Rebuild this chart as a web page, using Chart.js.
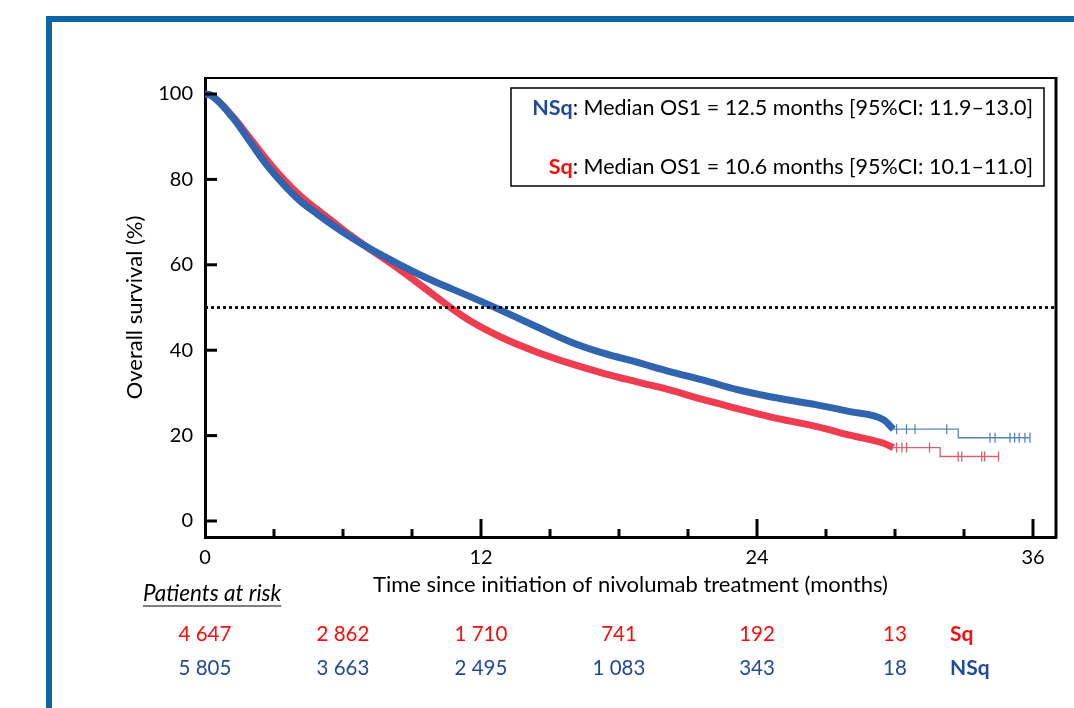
<!DOCTYPE html>
<html>
<head>
<meta charset="utf-8">
<script src="https://cdn.jsdelivr.net/npm/chart.js@4.4.1/dist/chart.umd.min.js"></script>
<style>
  body { margin: 0; background: #fff; }
  #wrap { position: relative; width: 1074px; height: 708px; overflow: hidden; }
  #frame { position: absolute; left: 46px; top: 16px; right: -10px; bottom: -10px;
           border-left: 6px solid #0b65a5; border-top: 6px solid #0b65a5; }
  canvas { position: absolute; left: 0; top: 0; }
</style>
</head>
<body>
<div id="wrap">
  <div id="frame"></div>
  <canvas id="osChart" width="1074" height="708"></canvas>
</div>
<script>
// --- DATA ---
const xTicks = [0, 3, 6, 9, 12, 15, 18, 21, 24, 27, 30, 33, 36];
const yTicks = [0, 20, 40, 60, 80, 100];

// dense part of the Kaplan-Meier curves (months, % alive)
const nsqTime = [0, 0.22, 1.23, 1.96, 2.68, 3.4, 4.13, 4.86, 5.58, 6.3, 7.03, 8.48, 9.93, 11.38, 12.4, 12.97, 14.42, 15.87, 17.32, 18.77, 20.2, 21.67, 23.1, 24.57, 26.6, 28.04, 29.5, 29.93];
const nsqSurv = [100, 99.8, 94.3, 88.8, 83.4, 78.9, 75.0, 72.0, 69.2, 66.6, 64.2, 60.0, 56.2, 52.9, 50.5, 49.1, 45.5, 42.0, 39.3, 37.2, 35.0, 33.0, 30.8, 29.1, 27.2, 25.6, 23.7, 21.5];
const sqTime = [0, 0.22, 1.23, 1.96, 2.68, 3.4, 4.13, 4.86, 5.58, 6.3, 7.03, 8.48, 9.93, 10.8, 11.52, 12.97, 14.42, 15.87, 17.32, 18.77, 20.2, 21.67, 23.1, 24.57, 26.6, 28.04, 29.5, 29.93];
const sqSurv = [100, 99.8, 94.6, 89.6, 84.6, 80.1, 76.2, 73.0, 70.0, 67.0, 64.2, 58.8, 53.0, 49.5, 46.9, 42.8, 39.6, 36.9, 34.6, 32.6, 30.7, 28.4, 26.4, 24.4, 22.1, 20.1, 18.2, 17.2];

// sparse tails (step lines) and censoring marks
const nsqTailTime = [29.93, 32.75, 35.87];
const nsqTailSurv = [21.5, 19.5, 19.5];
const nsqCensorTime = [30.07, 30.5, 30.87, 32.25, 34.13, 34.35, 35.0, 35.2, 35.4, 35.65, 35.87];
const nsqCensorSurv = [21.5, 21.5, 21.5, 21.5, 19.5, 19.5, 19.5, 19.5, 19.5, 19.5, 19.5];
const sqTailTime = [29.93, 31.96, 34.5];
const sqTailSurv = [17.2, 15.1, 15.1];
const sqCensorTime = [30.07, 30.3, 30.5, 31.5, 32.75, 32.9, 33.77, 33.9, 34.5];
const sqCensorSurv = [17.2, 17.2, 17.2, 17.2, 15.1, 15.1, 15.1, 15.1, 15.1];

const medianLine = [50, 50];

// patients at risk table
const riskTimes = [0, 6, 12, 18, 24, 30];
const sqRisk = ['4 647', '2 862', '1 710', '741', '192', '13'];
const nsqRisk = ['5 805', '3 663', '2 495', '1 083', '343', '18'];

// legend box text
const legendGroups = ['NSq', 'Sq'];
const legendTexts = [': Median OS1 = 12.5 months [95%CI: 11.9\u201313.0]', ': Median OS1 = 10.6 months [95%CI: 10.1\u201311.0]'];

const BLUE = '#3064ae';
const RED = '#ee3c50';
const BLUE_TXT = '#1f4a9c';
const RED_TXT = '#ff0a0a';
const FONT = 'Lato, "Open Sans", sans-serif';

const pts = (xs, ys) => xs.map((t, i) => ({ x: t, y: ys[i] }));

// --- DECORATION PLUGIN ---
const decor = {
    id: 'decor',
    afterDraw(chart) {
        const { ctx, chartArea: a, scales: { x, y } } = chart;
        ctx.save();
        ctx.strokeStyle = '#000';

        // top + right frame of the plot
        ctx.lineWidth = 2;
        ctx.beginPath();
        ctx.moveTo(a.left, a.top);
        ctx.lineTo(a.right, a.top);
        ctx.stroke();
        ctx.lineWidth = 3;
        ctx.beginPath();
        ctx.moveTo(a.right, a.top - 1);
        ctx.lineTo(a.right, a.bottom + 1.5);
        ctx.stroke();

        // inward tick marks
        ctx.lineWidth = 3;
        xTicks.forEach(v => {
            if (v === 0) return;
            const px = x.getPixelForValue(v);
            const len = v % 12 === 0 ? 18 : 8;
            ctx.beginPath();
            ctx.moveTo(px, a.bottom);
            ctx.lineTo(px, a.bottom - len);
            ctx.stroke();
        });
        yTicks.forEach(v => {
            const py = y.getPixelForValue(v);
            ctx.beginPath();
            ctx.moveTo(a.left, py);
            ctx.lineTo(a.left + 12, py);
            ctx.stroke();
        });

        // legend box
        ctx.lineWidth = 1.5;
        ctx.strokeRect(511, 88, 533, 98);
        ctx.textBaseline = 'middle';
        ctx.textAlign = 'right';
        const ly = [108, 167];
        const cols = [BLUE_TXT, RED_TXT];
        legendGroups.forEach((g, i) => {
            ctx.font = '21.5px ' + FONT;
            ctx.fillStyle = '#000';
            ctx.fillText(legendTexts[i], 1033, ly[i]);
            const w = ctx.measureText(legendTexts[i]).width;
            ctx.font = 'bold 21.5px ' + FONT;
            ctx.fillStyle = cols[i];
            ctx.fillText(g, 1033 - w, ly[i]);
        });

        // patients at risk
        ctx.textAlign = 'left';
        ctx.font = 'italic 22.5px ' + FONT;
        ctx.fillStyle = '#000';
        ctx.fillText('Patients at risk', 143, 594);
        const hw = ctx.measureText('Patients at risk').width;
        ctx.lineWidth = 1.2;
        ctx.beginPath();
        ctx.moveTo(143, 606);
        ctx.lineTo(143 + hw, 606);
        ctx.stroke();

        ctx.textAlign = 'center';
        ctx.font = '20.5px ' + FONT;
        riskTimes.forEach((t, i) => {
            const px = x.getPixelForValue(t);
            ctx.fillStyle = RED_TXT;
            ctx.fillText(sqRisk[i], px, 634);
            ctx.fillStyle = BLUE_TXT;
            ctx.fillText(nsqRisk[i], px, 668);
        });
        ctx.textAlign = 'left';
        ctx.font = 'bold 21px ' + FONT;
        ctx.fillStyle = RED_TXT;
        ctx.fillText('Sq', 950, 634);
        ctx.fillStyle = BLUE_TXT;
        ctx.fillText('NSq', 950, 668);
        ctx.restore();
    }
};

// --- CHART ---
const ctx = document.getElementById('osChart').getContext('2d');
const chart = new Chart(ctx, {
    type: 'line',
    data: {
        datasets: [
            {
                label: 'median',
                data: [{ x: 0, y: medianLine[0] }, { x: 37, y: medianLine[1] }],
                borderColor: '#000',
                borderWidth: 2.8,
                borderDash: [3, 3],
                pointRadius: 0,
                order: 0
            },
            {
                label: 'NSq',
                data: pts(nsqTime, nsqSurv),
                borderColor: BLUE,
                borderWidth: 7,
                cubicInterpolationMode: 'monotone',
                pointRadius: 0,
                order: 1
            },
            {
                label: 'NSq tail',
                data: pts(nsqTailTime, nsqTailSurv),
                borderColor: '#5a86b6',
                borderWidth: 1.3,
                stepped: true,
                pointRadius: 0,
                order: 1
            },
            {
                label: 'NSq censored',
                data: pts(nsqCensorTime, nsqCensorSurv),
                showLine: false,
                pointStyle: 'line',
                rotation: 90,
                pointRadius: 5,
                borderColor: '#5a86b6',
                pointBorderWidth: 1.3,
                order: 1
            },
            {
                label: 'Sq',
                data: pts(sqTime, sqSurv),
                borderColor: RED,
                borderWidth: 7,
                cubicInterpolationMode: 'monotone',
                pointRadius: 0,
                order: 2
            },
            {
                label: 'Sq tail',
                data: pts(sqTailTime, sqTailSurv),
                borderColor: '#d9606f',
                borderWidth: 1.3,
                stepped: true,
                pointRadius: 0,
                order: 2
            },
            {
                label: 'Sq censored',
                data: pts(sqCensorTime, sqCensorSurv),
                showLine: false,
                pointStyle: 'line',
                rotation: 90,
                pointRadius: 5,
                borderColor: '#d9606f',
                pointBorderWidth: 1.3,
                order: 2
            }
        ]
    },
    options: {
        responsive: false,
        animation: false,
        layout: { padding: { top: 78, right: 18, left: 0, bottom: 0 } },
        plugins: { legend: { display: false }, tooltip: { enabled: false } },
        scales: {
            x: {
                type: 'linear',
                min: 0,
                max: 37,
                afterBuildTicks: s => { s.ticks = xTicks.map(v => ({ value: v })); },
                afterFit: s => { s.height = 171; },
                grid: { display: true, drawOnChartArea: false, drawTicks: false },
                border: { display: true, color: '#000', width: 3 },
                ticks: {
                    autoSkip: false,
                    maxRotation: 0,
                    padding: 9,
                    color: '#000',
                    font: { family: FONT, size: 20 },
                    callback: v => (v % 12 === 0 ? v : '')
                },
                title: {
                    display: true,
                    text: 'Time since initiation of nivolumab treatment (months)',
                    color: '#000',
                    font: { family: FONT, size: 22 },
                    padding: { top: 0, bottom: 110 }
                }
            },
            y: {
                type: 'linear',
                min: -3.75,
                max: 103.75,
                afterBuildTicks: s => { s.ticks = yTicks.map(v => ({ value: v })); },
                afterFit: s => { s.width = 205; },
                grid: { display: true, drawOnChartArea: false, drawTicks: false },
                border: { display: true, color: '#000', width: 3 },
                ticks: {
                    padding: 12,
                    color: '#000',
                    font: { family: FONT, size: 20 }
                },
                title: {
                    display: true,
                    text: 'Overall survival (%)',
                    color: '#000',
                    font: { family: FONT, size: 22 },
                    padding: { top: 122, bottom: 0 }
                }
            }
        }
    },
    plugins: [decor]
});
</script>
</body>
</html>
